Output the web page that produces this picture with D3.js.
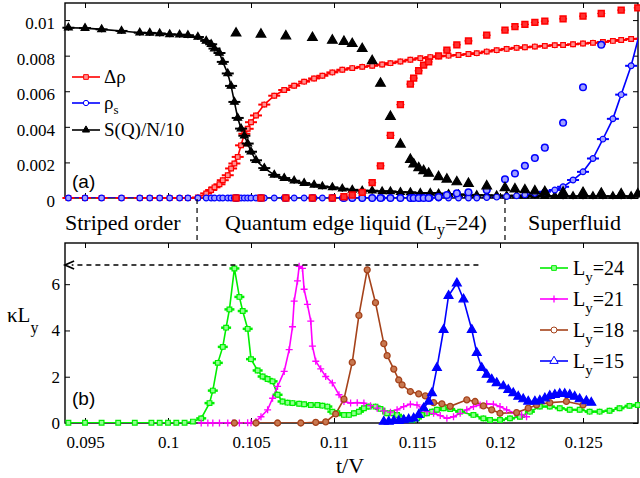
<!DOCTYPE html>
<html><head><meta charset="utf-8">
<script src="https://cdn.jsdelivr.net/npm/d3@7"></script>
<style>body{margin:0;background:#fff}svg{display:block}</style>
</head><body>
<svg id="c" width="640" height="478"></svg>
<script>
// ---------- DATA ----------
// Panel (a): Ly=24 series drawn with lines (t/V, value)
const dRho24 = [[0.0940,0],[0.0950,0],[0.0960,0],[0.0972,0],[0.0983,0],[0.0989,0],[0.0995,0],[0.1001,0],[0.1007,0],[0.1012,0],[0.1018,0.00003],[0.1023,0.00026],[0.1026,0.00045],[0.1028,0.0006],[0.1031,0.00077],[0.1033,0.001],[0.1036,0.00128],[0.1038,0.00166],[0.1040,0.00194],[0.1042,0.00231],[0.1044,0.00296],[0.1046,0.00361],[0.1048,0.00389],[0.1050,0.00426],[0.1053,0.00464],[0.1058,0.00525],[0.1064,0.00575],[0.1070,0.00607],[0.1076,0.00631],[0.1082,0.00654],[0.1088,0.00672],[0.1093,0.00687],[0.1099,0.00706],[0.1105,0.00721],[0.1111,0.0073],[0.1117,0.00737],[0.1123,0.00743],[0.1129,0.0075],[0.1134,0.00758],[0.1140,0.00767],[0.1146,0.00777],[0.1152,0.00786],[0.1158,0.00792],[0.1163,0.00796],[0.1169,0.008],[0.1175,0.00804],[0.1181,0.00809],[0.1186,0.00814],[0.1192,0.00823],[0.1198,0.00831],[0.1204,0.00838],[0.1210,0.00844],[0.1215,0.00847],[0.1221,0.00851],[0.1227,0.00855],[0.1233,0.00859],[0.1238,0.0086],[0.1244,0.00864],[0.1250,0.00868],[0.1256,0.00872],[0.1262,0.00877],[0.1268,0.00883],[0.1273,0.00888],[0.1279,0.00894],[0.1284,0.00898]];
const rhoS24 = [[0.0940,0],[0.0950,0],[0.0960,0],[0.0972,0],[0.0983,0],[0.0989,0],[0.0995,0],[0.1001,0],[0.1007,0],[0.1012,0],[0.1018,0],[0.1023,0],[0.1026,0],[0.1028,0],[0.1031,0],[0.1033,0],[0.1036,0],[0.1038,0],[0.1040,0],[0.1042,0],[0.1044,0],[0.1046,0],[0.1048,0],[0.1050,0],[0.1053,0],[0.1058,0],[0.1064,0],[0.1070,0],[0.1076,0],[0.1082,0],[0.1088,0],[0.1093,0],[0.1099,0],[0.1105,0],[0.1111,0],[0.1117,0],[0.1123,0],[0.1129,0],[0.1134,0],[0.1140,0],[0.1146,0],[0.1152,0],[0.1158,0],[0.1163,0],[0.1169,0],[0.1175,0],[0.1181,0],[0.1186,0],[0.1192,0.00003],[0.1198,0.00005],[0.1204,0.00008],[0.1210,0.00012],[0.1215,0.00018],[0.1221,0.00026],[0.1227,0.00035],[0.1233,0.00045],[0.1238,0.00063],[0.1244,0.00101],[0.1250,0.00147],[0.1256,0.00222],[0.1262,0.00331],[0.1268,0.00445],[0.1273,0.00581],[0.1279,0.00743],[0.1284,0.00922]];
const sq24 = [[0.0940,0.00957],[0.0950,0.00955],[0.0960,0.00948],[0.0972,0.00939],[0.0983,0.00929],[0.0989,0.00928],[0.0995,0.00925],[0.1001,0.0092],[0.1007,0.00918],[0.1012,0.00915],[0.1018,0.00905],[0.1023,0.00883],[0.1026,0.00864],[0.1028,0.0084],[0.1031,0.00815],[0.1033,0.00765],[0.1036,0.007],[0.1038,0.0063],[0.1040,0.0054],[0.1042,0.0045],[0.1044,0.0039],[0.1046,0.0035],[0.1048,0.00306],[0.1050,0.0026],[0.1053,0.00212],[0.1058,0.00168],[0.1064,0.0013],[0.1070,0.00112],[0.1076,0.00097],[0.1082,0.00084],[0.1088,0.00074],[0.1093,0.00065],[0.1099,0.0006],[0.1105,0.00052],[0.1111,0.00046],[0.1117,0.00041],[0.1123,0.00041],[0.1129,0.00037],[0.1134,0.00037],[0.1140,0.00033],[0.1146,0.00032],[0.1152,0.00028],[0.1158,0.00028],[0.1163,0.00025],[0.1169,0.00022],[0.1175,0.0002],[0.1181,0.00018],[0.1186,0.00016],[0.1192,0.00015],[0.1198,0.00014],[0.1204,0.00013],[0.1210,0.00013],[0.1215,0.00012],[0.1221,0.00012],[0.1227,0.00011],[0.1233,0.00011],[0.1238,0.0001],[0.1244,0.0001],[0.1250,0.0001],[0.1256,0.0001],[0.1262,0.0001],[0.1268,0.0001],[0.1273,0.0001],[0.1279,0.0001]];
// Panel (a): markers only (smaller system)
const dRhoB = [[0.1041,0],[0.1056,0],[0.1071,0],[0.1087,0],[0.1099,0],[0.1106,0.00007],[0.1111,0.00017],[0.1117,0.00032],[0.1123,0.00086],[0.1128,0.00181],[0.1134,0.00352],[0.1140,0.00525],[0.1146,0.0064],[0.1148,0.00674],[0.1151,0.00715],[0.1154,0.00747],[0.1157,0.00765],[0.1163,0.00799],[0.1168,0.00831],[0.1174,0.00861],[0.1181,0.00883],[0.1192,0.00915],[0.1203,0.00944],[0.1209,0.00963],[0.1215,0.00976],[0.1221,0.00987],[0.1227,0.00994],[0.1238,0.01007],[0.1250,0.01022],[0.1261,0.01037],[0.1273,0.01056],[0.1283,0.01069]];
const rhoSB = [[0.1041,0],[0.1056,0],[0.1071,0],[0.1087,0],[0.1099,0],[0.1106,0],[0.1111,0],[0.1117,0],[0.1123,0],[0.1128,0],[0.1134,0],[0.1140,0],[0.1146,0],[0.1148,0],[0.1151,0],[0.1154,0],[0.1157,0],[0.1163,0.00005],[0.1168,0.00017],[0.1174,0.00026],[0.1181,0.00032],[0.1192,0.00045],[0.1203,0.00105],[0.1209,0.00138],[0.1215,0.00181],[0.1221,0.00225],[0.1227,0.00283],[0.1238,0.00423],[0.1250,0.00622],[0.1261,0.00861]];
const sqB = [[0.1041,0.00926],[0.1056,0.0092],[0.1071,0.0091],[0.1087,0.00901],[0.1099,0.00886],[0.1106,0.00879],[0.1111,0.00867],[0.1117,0.00839],[0.1123,0.00771],[0.1128,0.00644],[0.1134,0.00458],[0.1140,0.00302],[0.1146,0.00216],[0.1148,0.0019],[0.1151,0.00169],[0.1154,0.00153],[0.1157,0.00138],[0.1163,0.00119],[0.1168,0.00105],[0.1174,0.0009],[0.1181,0.00081],[0.1192,0.00067],[0.1203,0.00057],[0.1209,0.0005],[0.1215,0.00045],[0.1221,0.00039],[0.1227,0.00035],[0.1238,0.00032],[0.1250,0.0003],[0.1261,0.00026],[0.1273,0.00022],[0.1283,0.00022]];

// Panel (b): kappa*Ly vs t/V
const kLy24 = [[0.0940,0.01],[0.0950,0.01],[0.0960,0.01],[0.0970,0.01],[0.0980,0.01],[0.0990,0.01],[0.0995,0.01],[0.1000,0.01],[0.1005,0.01],[0.1010,0.01],[0.1015,0.06],[0.1020,0.2],[0.1025,0.86],[0.1027,1.4],[0.1030,2.6],[0.1033,3.29],[0.1035,4.12],[0.1037,4.91],[0.1040,6.68],[0.1043,5.45],[0.1045,4.84],[0.1048,4.07],[0.1050,2.76],[0.1054,2.27],[0.1057,2.01],[0.1060,1.9],[0.1063,1.8],[0.1066,1.22],[0.1069,0.93],[0.1072,0.88],[0.1075,0.86],[0.1079,0.83],[0.1082,0.81],[0.1086,0.78],[0.1090,0.78],[0.1093,0.75],[0.1096,0.71],[0.1099,0.49],[0.1102,0.42],[0.1106,0.35],[0.1109,0.35],[0.1112,0.42],[0.1115,0.49],[0.1118,0.64],[0.1121,0.71],[0.1125,0.71],[0.1128,0.61],[0.1132,0.42],[0.1135,0.42],[0.1138,0.35],[0.1141,0.2],[0.1144,0.13],[0.1147,0.13],[0.1150,0.2],[0.1153,0.35],[0.1156,0.42],[0.1159,0.49],[0.1162,0.57],[0.1166,0.64],[0.1170,0.6],[0.1176,0.49],[0.1184,0.35],[0.1190,0.2],[0.1194,0.13],[0.1200,0.13],[0.1206,0.2],[0.1212,0.27],[0.1218,0.49],[0.1224,0.71],[0.1230,0.71],[0.1236,0.64],[0.1242,0.57],[0.1248,0.57],[0.1254,0.49],[0.1260,0.49],[0.1266,0.53],[0.1272,0.64],[0.1278,0.74],[0.1283,0.78]];
const kLy21 = [[0.1020,0],[0.1024,0],[0.1027,0],[0.1031,0],[0.1036,0],[0.1039,0],[0.1043,0],[0.1048,0.01],[0.1050,0.01],[0.1053,0.06],[0.1056,0.27],[0.1060,0.57],[0.1063,1.07],[0.1066,1.58],[0.1070,2.23],[0.1073,3.17],[0.1075,4.16],[0.1076,5.27],[0.1078,6.14],[0.1079,6.77],[0.1081,6.68],[0.1082,5.78],[0.1084,5.13],[0.1086,4.4],[0.1087,3.32],[0.1089,2.67],[0.1092,2.34],[0.1095,2.01],[0.1099,1.73],[0.1103,1.22],[0.1106,0.93],[0.1110,0.86],[0.1114,0.88],[0.1118,0.86],[0.1122,0.75],[0.1126,0.64],[0.1130,0.52],[0.1134,0.47],[0.1138,0.57],[0.1142,0.71],[0.1146,0.81],[0.1150,0.78],[0.1153,0.64],[0.1156,0.49],[0.1160,0.42],[0.1164,0.32],[0.1168,0.2],[0.1172,0.27],[0.1176,0.42],[0.1180,0.57],[0.1184,0.71],[0.1188,0.78],[0.1192,0.83],[0.1196,0.81],[0.1200,0.71],[0.1204,0.57],[0.1209,0.42],[0.1213,0.35],[0.1216,0.27]];
const kLy18 = [[0.1040,0],[0.1053,0],[0.1066,0],[0.1080,0],[0.1089,0.03],[0.1095,0.05],[0.1101,0.39],[0.1106,1.03],[0.1111,2.62],[0.1115,4.65],[0.1120,6.62],[0.1125,5.2],[0.1130,3.43],[0.1132,2.91],[0.1136,2.33],[0.1139,1.86],[0.1141,1.65],[0.1146,1.36],[0.1151,1.26],[0.1155,1.17],[0.1160,0.88],[0.1165,0.83],[0.1170,0.72],[0.1180,1.0],[0.1185,0.93],[0.1190,0.74],[0.1195,0.57],[0.1200,0.42],[0.1210,0.45],[0.1217,0.64],[0.1222,0.78],[0.1230,0.88],[0.1240,0.93],[0.1250,0.78]];
const kLy15 = [[0.1130,0.06],[0.1133,0.06],[0.1136,0.09],[0.1139,0.09],[0.1142,0.13],[0.1145,0.16],[0.1148,0.2],[0.1151,0.35],[0.1154,0.64],[0.1157,0.93],[0.1159,1.29],[0.1162,2.38],[0.1166,4.03],[0.1169,5.5],[0.1174,6.04],[0.1178,5.35],[0.1183,4.03],[0.1186,3.03],[0.1189,2.38],[0.1192,2.09],[0.1195,1.88],[0.1198,1.73],[0.1202,1.59],[0.1205,1.43],[0.1208,1.29],[0.1211,1.14],[0.1214,1.03],[0.1217,0.93],[0.1221,0.93],[0.1224,0.97],[0.1227,1.07],[0.1230,1.17],[0.1233,1.22],[0.1236,1.26],[0.1239,1.26],[0.1242,1.22],[0.1245,1.14],[0.1248,1.03],[0.1252,0.95],[0.1255,0.88]];

const xTicks = [0.095,0.1,0.105,0.11,0.115,0.12,0.125];
const xTickLabels = ["0.095","0.1","0.105","0.11","0.115","0.12","0.125"];
const yTicksA = [0,0.002,0.004,0.006,0.008,0.01];
const yTickLabelsA = ["0","0.002","0.004","0.006","0.008","0.01"];
const yTicksB = [0,2,4,6];
const yTickLabelsB = ["0","2","4","6"];
const phaseBounds = [0.10175,0.1203];
const peakLine = 6.83, peakFrom = 0.1187;

// ---------- LAYOUT ----------
const L=65,R=638,Ta=3,Ba=198,Tb=243,Bb=423;
const serif = "'Liberation Serif','Times New Roman',serif";
const sans = "'Liberation Sans',Arial,sans-serif";
const svg = d3.select("#c");
const x = d3.scaleLinear().domain([0.093795,0.128313]).range([L,R]);
const ya = d3.scaleLinear().domain([0,0.01096]).range([Ba,Ta]);
const yb = d3.scaleLinear().domain([0,7.78]).range([Bb,Tb]);

const defs = svg.append("defs");
defs.append("clipPath").attr("id","ca").append("rect").attr("x",L).attr("y",Ta).attr("width",R-L).attr("height",Ba-Ta);
defs.append("clipPath").attr("id","cb").append("rect").attr("x",L).attr("y",Tb).attr("width",R-L).attr("height",Bb-Tb);

function axes(y, top, bot, yt, ytl, showX, ypad, ydy){
  const g = svg.append("g");
  const fmt = (arr,lab)=> (d=>lab[arr.indexOf(d)]);
  g.append("g").attr("class","xa").attr("transform",`translate(0,${bot})`)
    .call(d3.axisBottom(x).tickValues(xTicks).tickSize(-5).tickSizeOuter(0).tickPadding(13).tickFormat(showX?fmt(xTicks,xTickLabels):()=>""));
  g.append("g").attr("transform",`translate(0,${top})`)
    .call(d3.axisTop(x).tickValues(xTicks).tickSize(-5).tickSizeOuter(0).tickFormat(()=>""));
  const yl = g.append("g").attr("transform",`translate(${L},0)`)
    .call(d3.axisLeft(y).tickValues(yt).tickSize(-5).tickSizeOuter(0).tickPadding(ypad).tickFormat(fmt(yt,ytl)));
  yl.selectAll(".tick text").attr("dy", ydy);
  g.append("g").attr("transform",`translate(${R},0)`)
    .call(d3.axisRight(y).tickValues(yt).tickSize(-5).tickSizeOuter(0).tickFormat(()=>""));
  g.selectAll(".domain").remove();
  g.selectAll(".tick line").attr("stroke","#000").attr("stroke-width",1);
  g.selectAll(".tick text").style("font-family",serif).style("font-size","17px").attr("fill","#000");
  g.append("rect").attr("x",L).attr("y",top).attr("width",R-L).attr("height",bot-top)
    .attr("fill","none").attr("stroke","#000").attr("stroke-width",1.4);
}

function drawLine(data, y, clip, color, w){
  svg.append("path").datum(data).attr("clip-path",`url(#${clip})`)
    .attr("fill","none").attr("stroke",color).attr("stroke-width",w||1.6)
    .attr("d", d3.line().x(d=>x(d[0])).y(d=>y(d[1])));
}
function inside(d,y){ const dx=x.domain(), dy=y.domain(); return d[0]>=dx[0]&&d[0]<=dx[1]&&d[1]<=dy[1]; }

function drawMarks(data, y, opt){
  const g = svg.append("g");
  const pts = data.filter(d=>inside(d,y));
  if(opt.bar){
    pts.filter(d=>opt.bar(d)).forEach(d=>{
      const cx=x(d[0]), cy=y(d[1]);
      g.append("line").attr("x1",cx-opt.bw).attr("x2",cx+opt.bw).attr("y1",cy).attr("y2",cy).attr("stroke",opt.color).attr("stroke-width",opt.bt||2);
      if(opt.bh) g.append("line").attr("x1",cx).attr("x2",cx).attr("y1",cy-opt.bh).attr("y2",cy+opt.bh).attr("stroke",opt.color).attr("stroke-width",1.3);
    });
  }
  if(opt.plus){
    pts.forEach(d=>{
      const cx=x(d[0]), cy=y(d[1]), s=opt.size;
      g.append("path").attr("d",`M${cx-s},${cy}H${cx+s}M${cx},${cy-s}V${cy+s}`).attr("stroke",opt.color).attr("stroke-width",1.3);
    });
    return;
  }
  g.selectAll("path.m").data(pts).join("path")
    .attr("transform",d=>`translate(${x(d[0])},${y(d[1])})`)
    .attr("d", d3.symbol().type(opt.type).size(opt.size))
    .attr("fill",opt.fill).attr("stroke",opt.color).attr("stroke-width",opt.sw||1.2);
}

// ---------- PANEL (a) ----------
axes(ya, Ta, Ba, yTicksA, yTickLabelsA, false, 10, "0.5em");
drawLine(dRho24, ya, "ca", "#ff0000");
drawLine(sq24, ya, "ca", "#000");
drawLine(rhoS24, ya, "ca", "#0000ff");
const anyBar = d=>true;
drawMarks(dRho24, ya, {type:d3.symbolSquare,size:22,color:"#ff0000",fill:"#ff9090",bar:anyBar,bw:6,bh:3});
drawMarks(sq24, ya, {type:d3.symbolTriangle,size:26,color:"#000",fill:"#000",bar:anyBar,bw:6,bh:3});
drawMarks(rhoS24, ya, {type:d3.symbolCircle,size:26,color:"#0000ff",fill:"#a0a0ff",bar:d=>d[1]>0.0002,bw:6,bh:3});
drawMarks(rhoSB, ya, {type:d3.symbolCircle,size:34,color:"#0000ff",fill:"#a0a0ff",sw:1.5,bar:anyBar,bw:4,bh:0,bt:1.2});
drawMarks(sqB, ya, {type:d3.symbolTriangle,size:40,color:"#000",fill:"#000"});
drawMarks(dRhoB, ya, {type:d3.symbolSquare,size:34,color:"#ff0000",fill:"#ff3030",sw:1.5,bar:anyBar,bw:4,bh:0,bt:1.2});

// legend (a)
const legA = [
  {c:"#ff0000",t:d3.symbolSquare,f:"#ff9090",y:77,lab:"Δρ"},
  {c:"#0000ff",t:d3.symbolCircle,f:"#ffffff",y:103,lab:"ρ",sub:"s"},
  {c:"#000",t:d3.symbolTriangle,f:"#000",y:130,lab:"S(Q)/N/10"}];
legA.forEach(l=>{
  svg.append("line").attr("x1",72).attr("x2",100).attr("y1",l.y).attr("y2",l.y).attr("stroke",l.c).attr("stroke-width",1.6);
  svg.append("path").attr("transform",`translate(86,${l.y})`).attr("d",d3.symbol().type(l.t).size(22)).attr("fill",l.f).attr("stroke",l.c);
  const t = svg.append("text").attr("x",104).attr("y",l.y+6).style("font-family",serif).style("font-size","19px").text(l.lab);
  if(l.sub) t.append("tspan").attr("dy",5).style("font-size","13px").text(l.sub);
});
svg.append("text").attr("x",72).attr("y",188).style("font-family",sans).style("font-size","19px").text("(a)");

// ---------- between panels ----------
phaseBounds.forEach(v=>{
  svg.append("line").attr("x1",x(v)).attr("x2",x(v)).attr("y1",199).attr("y2",243)
    .attr("stroke","#000").attr("stroke-width",1.2).attr("stroke-dasharray","5,4");
});
const mid = svg.append("g").style("font-family",serif).style("font-size","22px");
mid.append("text").attr("x",65).attr("y",230).text("Striped order");
const q = mid.append("text").attr("x",225).attr("y",230).text("Quantum edge liquid (L");
q.append("tspan").attr("dy",5).style("font-size","16px").text("y");
q.append("tspan").attr("dy",-5).text("=24)");
mid.append("text").attr("x",528).attr("y",230).text("Superfluid");

// ---------- PANEL (b) ----------
axes(yb, Tb, Bb, yTicksB, yTickLabelsB, true, 5, "0.32em");
drawLine(kLy24, yb, "cb", "#00ee00");
drawLine(kLy21, yb, "cb", "#ff00ff");
drawLine(kLy18, yb, "cb", "#a5421a");
drawLine(kLy15, yb, "cb", "#0000ff");
drawMarks(kLy24, yb, {type:d3.symbolSquare,size:22,color:"#00ee00",fill:"#90ff90",bar:d=>d[1]>0.1,bw:5,bh:3,bt:2.5});
drawMarks(kLy21, yb, {plus:true,size:3.5,color:"#ff00ff"});
drawMarks(kLy18, yb, {type:d3.symbolCircle,size:28,color:"#a5421a",fill:"#c87850",sw:1.3});
drawMarks(kLy15, yb, {type:d3.symbolTriangle,size:34,color:"#0000ff",fill:"#0000ff"});

// dashed arrow
svg.append("line").attr("x1",x(peakFrom)).attr("x2",x(0.0942)).attr("y1",yb(peakLine)).attr("y2",yb(peakLine))
  .attr("stroke","#000").attr("stroke-width",1.3).attr("stroke-dasharray","5,4");
const ax0 = x(0.0938), ay0 = yb(peakLine);
svg.append("path").attr("d",`M${ax0+9},${ay0-4}L${ax0},${ay0}L${ax0+9},${ay0+4}`).attr("fill","none").attr("stroke","#000").attr("stroke-width",1.8);

// legend (b)
const legB = [
  {c:"#00ee00",y:268,lab:"24",draw:(g,cx,cy)=>g.append("path").attr("transform",`translate(${cx},${cy})`).attr("d",d3.symbol().type(d3.symbolSquare).size(22)).attr("fill","#90ff90").attr("stroke","#00ee00")},
  {c:"#ff00ff",y:299,lab:"21",draw:(g,cx,cy)=>g.append("path").attr("d",`M${cx-3.5},${cy}H${cx+3.5}M${cx},${cy-3.5}V${cy+3.5}`).attr("stroke","#ff00ff").attr("stroke-width",1.3)},
  {c:"#a5421a",y:330,lab:"18",draw:(g,cx,cy)=>g.append("path").attr("transform",`translate(${cx},${cy})`).attr("d",d3.symbol().type(d3.symbolCircle).size(28)).attr("fill","#fff").attr("stroke","#a5421a")},
  {c:"#0000ff",y:361,lab:"15",draw:(g,cx,cy)=>g.append("path").attr("transform",`translate(${cx},${cy})`).attr("d",d3.symbol().type(d3.symbolTriangle).size(30)).attr("fill","#fff").attr("stroke","#0000ff")}];
legB.forEach(l=>{
  const g = svg.append("g");
  g.append("line").attr("x1",540).attr("x2",568).attr("y1",l.y).attr("y2",l.y).attr("stroke",l.c).attr("stroke-width",1.6);
  l.draw(g,554,l.y);
  const t = g.append("text").attr("x",573).attr("y",l.y+7).style("font-family",serif).style("font-size","20px").text("L");
  t.append("tspan").attr("dy",7).style("font-size","15px").text("y");
  t.append("tspan").attr("dy",-7).text("="+l.lab);
});
svg.append("text").attr("x",72).attr("y",405).style("font-family",sans).style("font-size","19px").text("(b)");

// axis labels
const yl = svg.append("text").attr("x",7).attr("y",322).style("font-family",serif).style("font-size","21px").text("κL");
yl.append("tspan").attr("dy",11).style("font-size","16px").text("y");
svg.append("text").attr("x",350).attr("y",473).attr("text-anchor","middle").style("font-family",serif).style("font-size","22px").text("t/V");
</script>
</body></html>
